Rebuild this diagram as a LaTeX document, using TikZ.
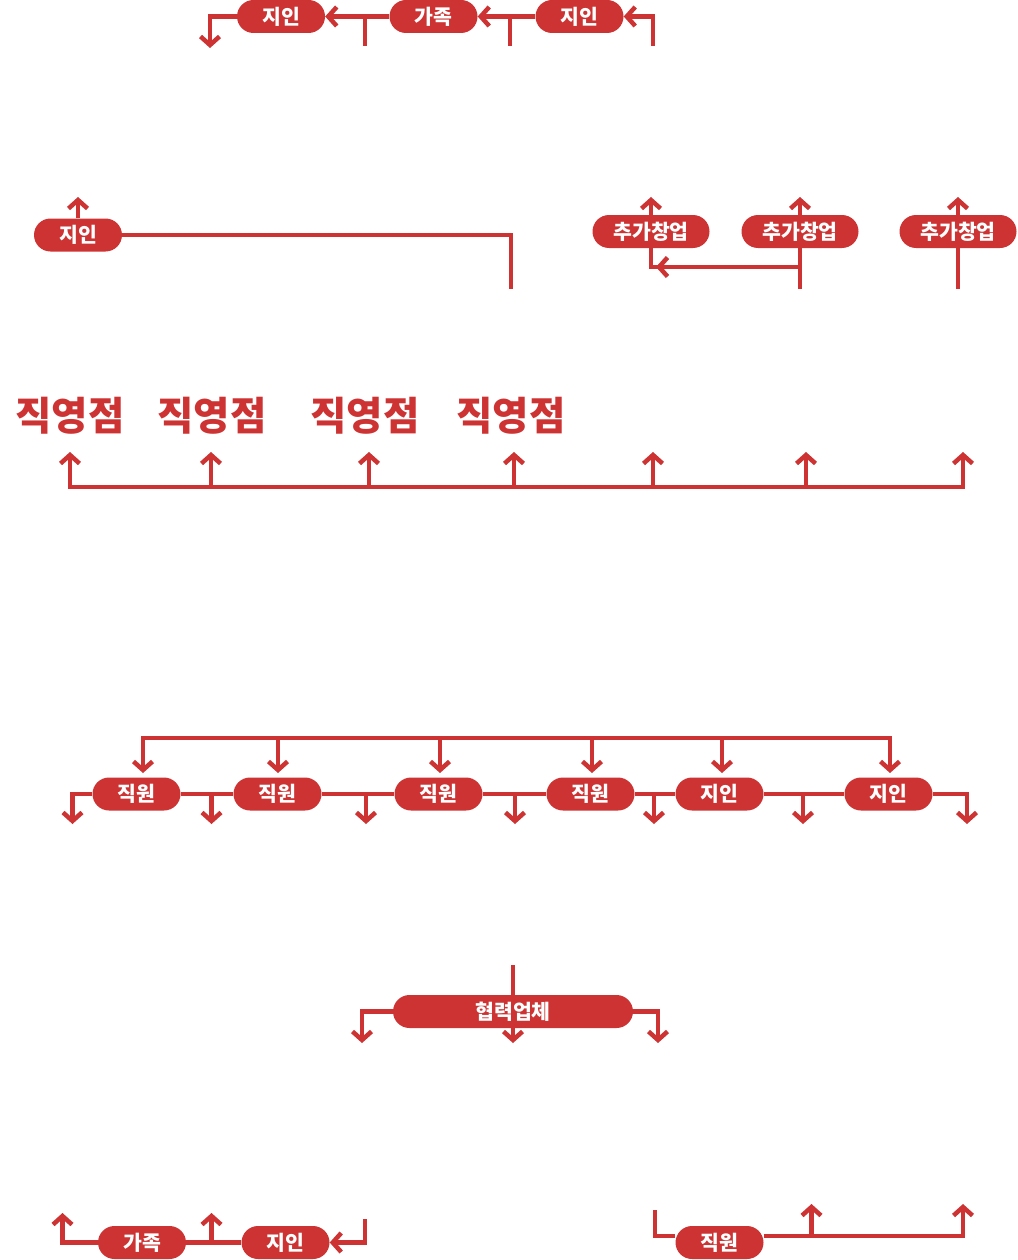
\documentclass[tikz,border=0pt]{standalone}
\usepackage{fontspec}
\setmainfont{Noto Sans CJK KR}
\usetikzlibrary{arrows.meta}
\definecolor{brandred}{RGB}{205,51,51}
\tikzset{
  link/.style={draw=brandred, line width=4.5pt},
  arr/.style={link, -{Straight Barb[length=8.5pt,width=19pt]}},
  arrboth/.style={link, {Straight Barb[length=8.5pt,width=19pt]}-{Straight Barb[length=8.5pt,width=19pt]}},
  pill/.style={fill=brandred, text=white, rounded corners=16.5pt, minimum height=33pt,
    inner sep=0pt, font=\bfseries\fontsize{20.5}{20.5}\selectfont},
  pillS/.style={pill, minimum width=88pt},
  pillM/.style={pill, minimum width=117pt},
  pillL/.style={pill, minimum width=240pt},
  storelabel/.style={text=brandred, inner sep=0pt, font=\bfseries\fontsize{39.5}{39.5}\selectfont}
}
\begin{document}
\begin{tikzpicture}[x=1pt, y=-1pt]
\useasboundingbox (0,0) rectangle (1017,1260);

% ---------- Section 1 ----------
\node[pillS] (a1) at (281,16.5) {지인};
\node[pillS] (a2) at (433.5,16.5) {가족};
\node[pillS] (a3) at (579.5,16.5) {지인};
\coordinate (a1d) at (210,48);
\coordinate (s1t) at (365,16.5);
\coordinate (s1b) at (365,46);
\coordinate (s2t) at (510,16.5);
\coordinate (s2b) at (510,46);
\coordinate (a3s) at (653,46);
\draw[arr] (a1.west) -| (a1d);
\draw[arr] (a2.west) -- (a1.east);
\draw[link] (s1t) -- (s1b);
\draw[arr] (a3.west) -- (a2.east);
\draw[link] (s2t) -- (s2b);
\draw[arr] (a3s) |- (a3.east);

% ---------- Section 2 ----------
\node[pillS] (b1) at (78,235) {지인};
\coordinate (b1u) at (78,197);
\coordinate (b1e) at (511,289);
\draw[arr] (b1.north) -- (b1u);
\draw[link] (b1.east) -| (b1e);

\node[pillM] (c1) at (651,231.5) {추가창업};
\node[pillM] (c2) at (800,231.5) {추가창업};
\node[pillM] (c3) at (958,231.5) {추가창업};
\coordinate (c1u) at (651,197);
\coordinate (c2u) at (800,197);
\coordinate (c3u) at (958,197);
\coordinate (c2b) at (800,289);
\coordinate (c3b) at (958,289);
\coordinate (c2m) at (800,267);
\coordinate (c1m) at (656,267);
\draw[arr] (c1.north) -- (c1u);
\draw[arr] (c2.north) -- (c2u);
\draw[arr] (c3.north) -- (c3u);
\draw[link] (c2b) -- (c2.south);
\draw[link] (c3b) -- (c3.south);
\draw[link] (c1.south) |- (c2m);
\draw[arr] (c2m) -- (c1m);

% ---------- Section 3 ----------
\node[storelabel] (d1) at (70,416) {직영점};
\node[storelabel] (d2) at (212,416) {직영점};
\node[storelabel] (d3) at (365,416) {직영점};
\node[storelabel] (d4) at (511,416) {직영점};
\coordinate (t1) at (70,452);
\coordinate (t7) at (963,452);
\draw[arrboth] (t1) -- (70,487) -- (963,487) -- (t7);
\foreach \xx in {211,369,514,653,806}
  \draw[arr] (\xx,487) -- (\xx,452);

% ---------- Section 4 ----------
\draw[arrboth] (143,773) -- (143,738) -- (890,738) -- (890,773);
\foreach \xx in {278,440,592,722}
  \draw[arr] (\xx,738) -- (\xx,773);

\node[pillS] (e1) at (136.5,794) {직원};
\node[pillS] (e2) at (277.5,794) {직원};
\node[pillS] (e3) at (438.5,794) {직원};
\node[pillS] (e4) at (590.5,794) {직원};
\node[pillS] (e5) at (719.5,794) {지인};
\node[pillS] (e6) at (888.5,794) {지인};
\coordinate (e1d) at (72.5,824);
\coordinate (e6d) at (967,824);
\draw[arr] (e1.west) -| (e1d);
\draw[link] (e1.east) -- (e2.west);
\draw[link] (e2.east) -- (e3.west);
\draw[link] (e3.east) -- (e4.west);
\draw[link] (e4.east) -- (e5.west);
\draw[link] (e5.east) -- (e6.west);
\draw[arr] (e6.east) -| (e6d);
\foreach \xx in {211.5,366,515,654,803}
  \draw[arr] (\xx,794) -- (\xx,824);

% ---------- Section 5 ----------
\node[pillL] (f) at (513,1011.5) {협력업체};
\coordinate (ft) at (513,965);
\coordinate (fd) at (513,1043);
\coordinate (fl) at (362,1043);
\coordinate (fr) at (658,1043);
\draw[link] (ft) -- (f.north);
\draw[arr] (f.south) -- (fd);
\draw[arr] (f.west) -| (fl);
\draw[arr] (f.east) -| (fr);

% ---------- Section 6 ----------
\node[pillS] (g1) at (142,1242.5) {가족};
\node[pillS] (g2) at (285.5,1242.5) {지인};
\coordinate (g1u) at (62.5,1213);
\coordinate (gmid) at (211.5,1242.5);
\coordinate (gmu) at (211.5,1213);
\coordinate (g2s) at (365,1219);
\draw[arr] (g1.west) -| (g1u);
\draw[link] (g1.east) -- (g2.west);
\draw[arr] (gmid) -- (gmu);
\draw[arr] (g2s) |- (g2.east);

\node[pillS] (h) at (719.5,1242.5) {직원};
\coordinate (hs) at (655,1210);
\coordinate (hr) at (963,1204);
\coordinate (hm) at (811.5,1236);
\coordinate (hmu) at (811.5,1204);
\draw[link] (hs) |- ([yshift=6.5pt]h.west);
\draw[arr] ([yshift=6.5pt]h.east) -| (hr);
\draw[arr] (hm) -- (hmu);
\end{tikzpicture}
\end{document}
